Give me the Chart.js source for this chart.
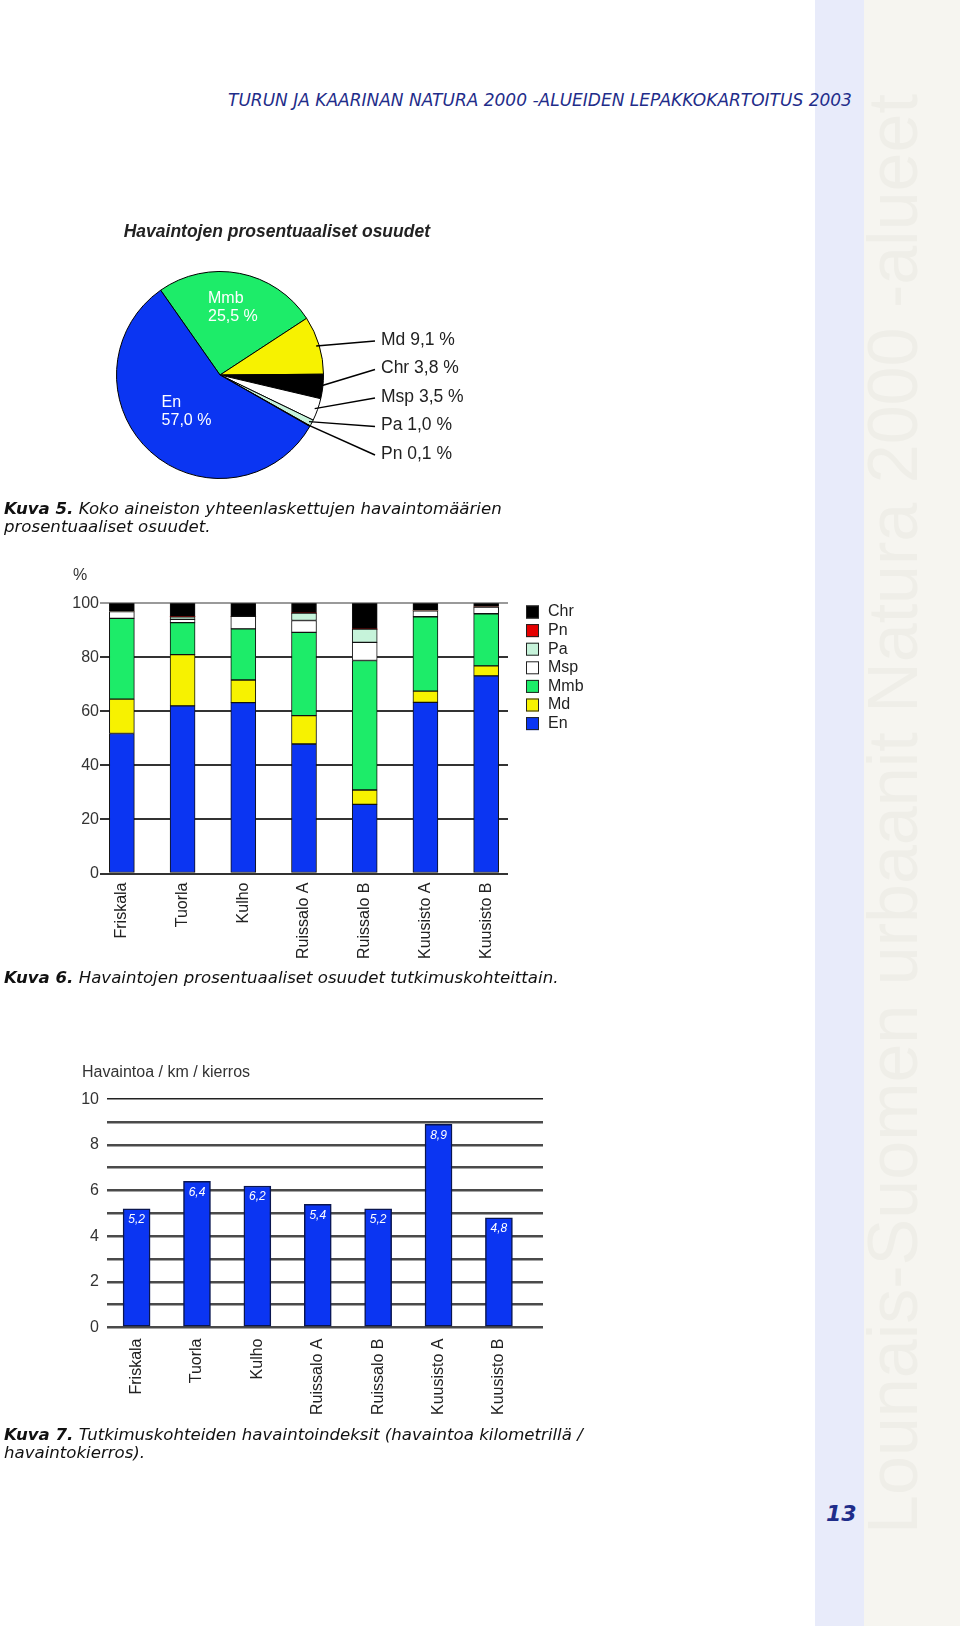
<!DOCTYPE html>
<html lang="fi">
<head>
<meta charset="utf-8">
<title>Lepakkokartoitus 2003</title>
<script src="https://cdn.jsdelivr.net/npm/chart.js@4.4.1/dist/chart.umd.min.js"></script>
<style>
	body {
		margin: 0;
		width: 960px;
		height: 1626px;
		position: relative;
		overflow: hidden;
		background: #fff;
		font-family: "DejaVu Sans", sans-serif;
	}
	.band { position: absolute; left: 815px; top: 0; width: 49px; height: 1626px; background: #e8ebfa; }
	.side { position: absolute; left: 864px; top: 0; width: 96px; height: 1626px; background: #f6f5f0; }
	.watermark {
		position: absolute;
		left: 173px;
		top: 779px;
		width: 1440px;
		height: 70px;
		line-height: 70px;
		text-align: center;
		font-family: "Liberation Sans", sans-serif;
		font-size: 70px;
		color: #efeee8;
		white-space: nowrap;
		transform: rotate(-90deg);
	}
	.header {
		position: absolute;
		left: 228px;
		top: 90px;
		font-size: 17px;
		line-height: 20px;
		font-style: italic;
		color: #1f2d8a;
		white-space: nowrap;
	}
	.caption {
		position: absolute;
		left: 4px;
		font-size: 16.6px;
		line-height: 18px;
		font-style: italic;
		color: #111;
		white-space: nowrap;
	}
	.pageno {
		position: absolute;
		left: 826px;
		top: 1501px;
		font-size: 22px;
		font-weight: bold;
		font-style: italic;
		color: #1f2d8a;
	}
	canvas { position: absolute; }
</style>
</head>
<body>
<div class="band"></div>
<div class="side"></div>
<div class="watermark">Lounais-Suomen urbaanit Natura 2000 -alueet</div>

<div class="header">TURUN JA KAARINAN NATURA 2000 -ALUEIDEN LEPAKKOKARTOITUS 2003</div>

<canvas id="pieChart" width="520" height="290" style="left:0px;top:210px"></canvas>
<div class="caption" style="top:500px"><b>Kuva 5.</b> Koko aineiston yhteenlaskettujen havaintomäärien<br>prosentuaaliset osuudet.</div>

<canvas id="stackChart" width="580" height="412" style="left:40px;top:560px"></canvas>
<div class="caption" style="top:969px"><b>Kuva 6.</b> Havaintojen prosentuaaliset osuudet tutkimuskohteittain.</div>

<canvas id="rateChart" width="540" height="385" style="left:40px;top:1050px"></canvas>
<div class="caption" style="top:1426px"><b>Kuva 7.</b> Tutkimuskohteiden havaintoindeksit (havaintoa kilometrillä /<br>havaintokierros).</div>

<div class="pageno">13</div>

<script>
// ---- data ----
const pieLabels = ["Mmb", "Md", "Chr", "Msp", "Pa", "Pn", "En"];
const pieValues = [25.5, 9.1, 3.8, 3.5, 1.0, 0.1, 57.0];

const sites = ["Friskala", "Tuorla", "Kulho", "Ruissalo A", "Ruissalo B", "Kuusisto A", "Kuusisto B"];
// shares per site, %
const en = [51.8, 62.0, 63.2, 47.9, 25.6, 63.3, 73.1];
const md = [12.7, 19.0, 8.4, 10.5, 5.3, 4.2, 3.7];
const mmb = [29.9, 11.8, 18.9, 30.8, 47.9, 27.5, 19.3];
const msp = [2.5, 1.2, 4.6, 4.4, 6.7, 2.2, 2.5];
const pa = [0, 1.0, 0, 2.7, 4.9, 0, 0];
const pn = [0, 0, 0, 0, 0, 0, 0];
const chr = [3.1, 5.0, 4.9, 3.7, 9.6, 2.8, 1.4];
const pctTicks = [0, 20, 40, 60, 80, 100];

// observations / km / round
const rates = [5.2, 6.4, 6.2, 5.4, 5.2, 8.9, 4.8];
const rateLabels = [0, 2, 4, 6, 8, 10];

const speciesColors = {
	En: "#0b35f2",
	Md: "#f7f200",
	Mmb: "#1dec69",
	Msp: "#ffffff",
	Pa: "#c6f3da",
	Pn: "#e60000",
	Chr: "#000000",
};

Chart.defaults.font.family = "'Liberation Sans', Arial, sans-serif";
Chart.defaults.font.size = 16;
Chart.defaults.color = "#333";
Chart.defaults.animation = false;
Chart.defaults.plugins.legend.display = false;
Chart.defaults.plugins.tooltip.enabled = false;

function fmt(v) {
	return v.toFixed(1).replace(".", ",");
}

// site index -> {x, y} for the linear index axis
function toPoints(arr) {
	return arr.map((v, i) => ({ x: i, y: v }));
}

// ---- pie: labels inside big slices, leader lines for small ones ----
const pieCallouts = {
	id: "pieCallouts",
	afterDatasetsDraw(chart, args, opts) {
		const ctx = chart.ctx;
		const meta = chart.getDatasetMeta(0);
		const values = chart.data.datasets[0].data;
		ctx.save();
		ctx.textBaseline = "middle";
		meta.data.forEach((arc, i) => {
			const label = chart.data.labels[i];
			const mid = (arc.startAngle + arc.endAngle) / 2;
			if (opts.inside[label]) {
				const r = arc.outerRadius * opts.inside[label];
				const px = arc.x + Math.cos(mid) * r;
				const py = arc.y + Math.sin(mid) * r;
				const lines = [label, fmt(values[i]) + " %"];
				ctx.font = "16px 'Liberation Sans'";
				ctx.fillStyle = "#fff";
				ctx.textAlign = "left";
				const w = Math.max(...lines.map((t) => ctx.measureText(t).width));
				ctx.fillText(lines[0], px - w / 2, py - 9);
				ctx.fillText(lines[1], px - w / 2, py + 9);
			} else {
				const k = opts.outside.indexOf(label);
				const ty = opts.top + k * opts.step;
				const sx = arc.x + Math.cos(mid) * (arc.outerRadius - 3);
				const sy = arc.y + Math.sin(mid) * (arc.outerRadius - 3);
				ctx.strokeStyle = "#000";
				ctx.lineWidth = 1.5;
				ctx.beginPath();
				ctx.moveTo(sx, sy);
				ctx.lineTo(opts.x - 6, ty + 1);
				ctx.stroke();
				ctx.font = "17.5px 'Liberation Sans'";
				ctx.fillStyle = "#222";
				ctx.textAlign = "left";
				ctx.fillText(label + " " + fmt(values[i]) + " %", opts.x, ty);
			}
		});
		ctx.restore();
	},
};

// chart area 10..430 keeps the pie centred at 220 and the title box wide enough
new Chart(document.getElementById("pieChart"), {
	type: "pie",
	data: {
		labels: pieLabels,
		datasets: [
			{
				data: pieValues,
				backgroundColor: pieLabels.map((l) => speciesColors[l]),
				borderColor: "#000",
				borderWidth: 1,
			},
		],
	},
	options: {
		responsive: false,
		devicePixelRatio: 1,
		rotation: -35,
		layout: { padding: { left: 10, right: 90, top: 0, bottom: 21 } },
		plugins: {
			title: {
				display: true,
				text: "Havaintojen prosentuaaliset osuudet",
				align: "end",
				color: "#222",
				font: { size: 17.5, weight: "bold", style: "italic" },
				padding: { top: 12, bottom: 28 },
			},
			pieCallouts: {
				inside: { Mmb: 0.66, En: 0.48 },
				outside: ["Md", "Chr", "Msp", "Pa", "Pn"],
				x: 381,
				top: 130,
				step: 28.5,
			},
		},
	},
	plugins: [pieCallouts],
});

// ---- stacked bars: legend drawn at the side, topmost series first ----
const sideLegend = {
	id: "sideLegend",
	afterDraw(chart, args, opts) {
		const ctx = chart.ctx;
		ctx.save();
		ctx.font = "16px 'Liberation Sans'";
		ctx.textBaseline = "middle";
		ctx.textAlign = "left";
		chart.data.datasets
			.slice()
			.reverse()
			.forEach((ds, i) => {
				const y = opts.y + i * opts.step;
				ctx.fillStyle = ds.backgroundColor;
				ctx.fillRect(opts.x, y - 6.5, 13, 13);
				ctx.strokeStyle = "#222";
				ctx.lineWidth = 1;
				ctx.strokeRect(opts.x + 0.5, y - 6, 12, 12);
				ctx.fillStyle = "#222";
				ctx.fillText(ds.label, opts.x + 22, y);
			});
		ctx.restore();
	},
};

const stackSeries = [
	["En", en],
	["Md", md],
	["Mmb", mmb],
	["Msp", msp],
	["Pa", pa],
	["Pn", pn],
	["Chr", chr],
];

new Chart(document.getElementById("stackChart"), {
	type: "bar",
	data: {
		datasets: stackSeries.map(([name, arr]) => ({
			label: name,
			data: toPoints(arr),
			backgroundColor: speciesColors[name],
			borderColor: "#111",
			borderWidth: (c) => (c.raw && c.raw.y ? 1 : 0),
			borderSkipped: false,
			barThickness: 25,
		})),
	},
	options: {
		responsive: false,
		devicePixelRatio: 1,
		layout: { padding: { left: 33, right: 112, top: 0, bottom: 12 } },
		scales: {
			x: {
				type: "linear",
				stacked: true,
				min: -0.36,
				max: 6.36,
				offset: false,
				grid: { display: false },
				border: { display: false },
				ticks: {
					stepSize: 1,
					includeBounds: false,
					autoSkip: false,
					minRotation: 90,
					maxRotation: 90,
					padding: 1,
					color: "#222",
					callback: (v) => sites[v] ?? "",
				},
			},
			y: {
				stacked: true,
				min: 0,
				max: 100,
				border: { display: false },
				grid: {
					drawTicks: false,
					lineWidth: 2,
					color: (c) => (c.tick.value === 100 ? "#9a9a9a" : "#333"),
				},
				ticks: { padding: 1, color: "#333" },
				afterBuildTicks: (s) => {
					s.ticks = pctTicks.map((v) => ({ value: v }));
				},
				afterFit: (s) => {
					s.width = 27;
				},
			},
		},
		plugins: {
			title: {
				display: true,
				text: "%",
				align: "start",
				color: "#333",
				font: { size: 16, weight: "normal" },
				padding: { top: 6, bottom: 18 },
			},
			sideLegend: { x: 486, y: 52, step: 18.6 },
		},
	},
	plugins: [sideLegend],
});

// ---- index bars with value labels inside the top ----
const barValues = {
	id: "barValues",
	afterDatasetsDraw(chart) {
		const ctx = chart.ctx;
		const meta = chart.getDatasetMeta(0);
		ctx.save();
		ctx.font = "italic 12px 'Liberation Sans'";
		ctx.fillStyle = "#fff";
		ctx.textAlign = "center";
		ctx.textBaseline = "middle";
		meta.data.forEach((bar, i) => {
			ctx.fillText(fmt(rates[i]), bar.x, bar.y + 11);
		});
		ctx.restore();
	},
};

new Chart(document.getElementById("rateChart"), {
	type: "bar",
	data: {
		datasets: [
			{
				label: "Havaintoa / km / kierros",
				data: toPoints(rates),
				backgroundColor: speciesColors.En,
				borderColor: "#0a1650",
				borderWidth: 1.5,
				borderSkipped: false,
				barThickness: 27,
			},
		],
	},
	options: {
		responsive: false,
		devicePixelRatio: 1,
		layout: { padding: { left: 42, right: 37, top: 0, bottom: 17 } },
		scales: {
			x: {
				type: "linear",
				min: -0.49,
				max: 6.73,
				offset: false,
				grid: { display: false },
				border: { display: false },
				ticks: {
					stepSize: 1,
					includeBounds: false,
					autoSkip: false,
					minRotation: 90,
					maxRotation: 90,
					padding: 3,
					color: "#222",
					callback: (v) => sites[v] ?? "",
				},
			},
			y: {
				min: 0,
				max: 10,
				border: { display: false },
				grid: {
					drawTicks: false,
					lineWidth: (c) => (c.tick.value === 10 ? 1.6 : 2.5),
					color: (c) => (c.tick.value === 10 ? "#222" : "#4a4a4a"),
				},
				ticks: {
					stepSize: 1,
					autoSkip: false,
					padding: 8,
					color: "#333",
					callback: (v) => (rateLabels.includes(v) ? v : ""),
				},
				afterFit: (s) => {
					s.width = 25;
				},
			},
		},
		plugins: {
			title: {
				display: true,
				text: "Havaintoa / km / kierros",
				align: "start",
				color: "#333",
				font: { size: 16, weight: "normal" },
				padding: { top: 13, bottom: 17 },
			},
		},
	},
	plugins: [barValues],
});
</script>
</body>
</html>
